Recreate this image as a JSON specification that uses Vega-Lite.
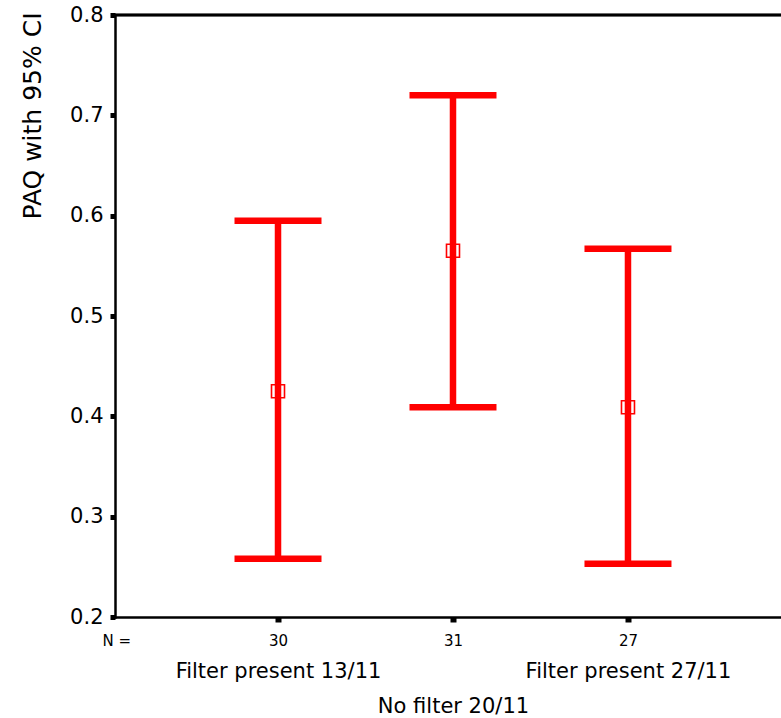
{
  "$schema": "https://vega.github.io/schema/vega-lite/v6.json",
  "autosize": {"type": "none"},
  "padding": {"left": 115, "top": 15, "right": 0, "bottom": 101},
  "width": 666,
  "height": 602,
  "background": "white",
  "config": {
    "view": {"stroke": null},
    "font": "DejaVu Sans",
    "axis": {"labelFont": "DejaVu Sans", "titleFont": "DejaVu Sans", "labelColor": "black", "titleColor": "black", "domainColor": "black", "tickColor": "black", "labelLimit": 0}
  },
  "data": {
    "values": [
      {"group": "Filter present 13/11", "n": "30", "mean": 0.425, "lower": 0.258, "upper": 0.595},
      {"group": "No filter 20/11", "n": "31", "mean": 0.565, "lower": 0.409, "upper": 0.720},
      {"group": "Filter present 27/11", "n": "27", "mean": 0.409, "lower": 0.253, "upper": 0.567}
    ]
  },
  "resolve": {"scale": {"x": "independent"}, "axis": {"x": "independent"}},
  "layer": [
    {
      "encoding": {
        "x": {
          "field": "group", "type": "nominal", "sort": null,
          "scale": {"type": "point", "padding": 0.903, "align": 0.5158},
          "axis": {
            "orient": "bottom", "title": null, "ticks": false, "tickSize": 0,
            "domain": true, "domainWidth": 2.5, "domainCap": "square",
            "labelAngle": 0, "labelFontSize": 21, "labelBaseline": "top", "labelLimit": 0,
            "labelPadding": {"condition": {"test": "datum.value === 'No filter 20/11'", "value": 78}, "value": 43},
            "labelOverlap": false, "labelBound": false, "labelFlush": false
          }
        },
        "y": {
          "type": "quantitative",
          "scale": {"domain": [0.2, 0.8], "nice": false, "zero": false},
          "axis": {
            "values": [0.2, 0.3, 0.4, 0.5, 0.6, 0.7, 0.8], "format": ".1f", "grid": false,
            "title": "PAQ with 95% CI", "titleFontSize": 25, "titleFontWeight": "normal",
            "titleAngle": -90, "titleX": -75, "titleY": -3, "titleAlign": "right", "titleBaseline": "alphabetic",
            "labelFontSize": 21, "labelPadding": 7, "tickSize": 5, "tickWidth": 5,
            "domainWidth": 2.5, "domainCap": "square", "labelFlush": false, "labelOverlap": false
          }
        }
      },
      "layer": [
        {
          "mark": {"type": "rule", "color": "red", "strokeWidth": 6.5, "opacity": 1},
          "encoding": {"y": {"field": "lower"}, "y2": {"field": "upper"}}
        },
        {
          "mark": {"type": "tick", "color": "red", "size": 87, "thickness": 6.5, "opacity": 1},
          "encoding": {"y": {"field": "upper"}}
        },
        {
          "mark": {"type": "tick", "color": "red", "size": 87, "thickness": 6.5, "opacity": 1},
          "encoding": {"y": {"field": "lower"}}
        }
      ]
    },
    {
      "mark": {"type": "point", "shape": "square", "filled": false, "color": "red", "size": 169, "strokeWidth": 1.6, "opacity": 1},
      "encoding": {
        "x": {
          "field": "n", "type": "ordinal", "sort": null,
          "scale": {"type": "point", "padding": 0.903, "align": 0.5158},
          "axis": {
            "orient": "bottom", "domain": false, "ticks": true, "tickSize": 5, "tickWidth": 6,
            "labelAngle": 0, "labelFontSize": 15, "labelBaseline": "top", "labelPadding": 11,
            "title": "N =", "titleFontSize": 15, "titleFontWeight": "normal",
            "titleX": -13, "titleY": 28, "titleAlign": "left", "titleBaseline": "alphabetic", "titleAngle": 0
          }
        },
        "y": {"field": "mean", "type": "quantitative"}
      }
    },
    {
      "mark": {"type": "rule", "color": "black", "strokeWidth": 2.5},
      "encoding": {"y": {"datum": 0.8, "type": "quantitative"}}
    }
  ]
}
